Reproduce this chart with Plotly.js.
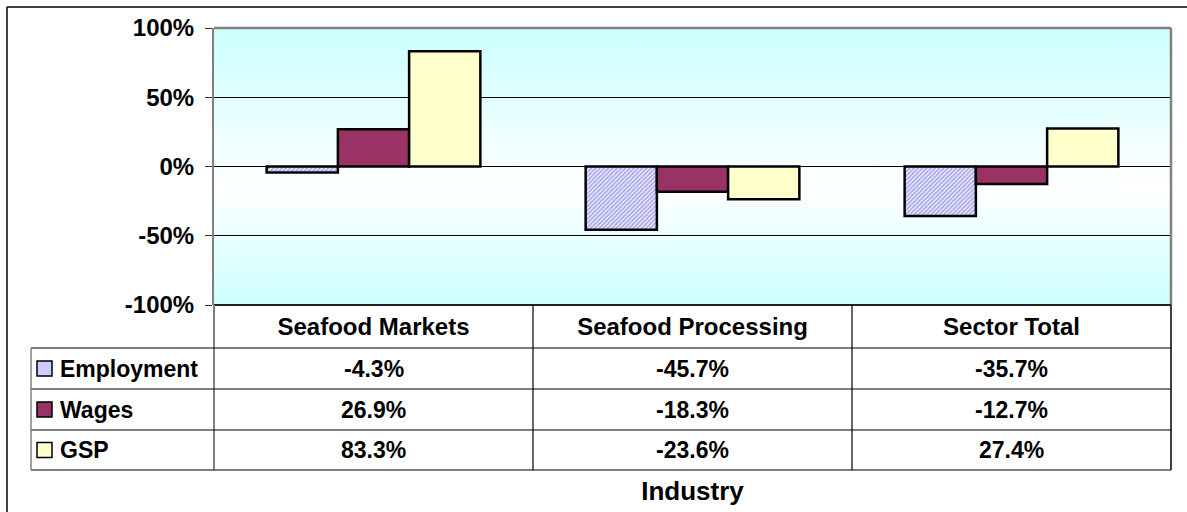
<!DOCTYPE html>
<html>
<head>
<meta charset="utf-8">
<script src="https://cdn.plot.ly/plotly-3.0.1.min.js"></script>
<style>
html,body{margin:0;padding:0;background:#fff;}
#chart{width:1187px;height:512px;}
</style>
</head>
<body>
<div id="chart"></div>
<script>
// ---- data ----
const categories = ['Seafood Markets', 'Seafood Processing', 'Sector Total'];
const seriesNames = ['Employment', 'Wages', 'GSP'];
const employment = [-4.3, -45.7, -35.7];
const wages = [26.9, -18.3, -12.7];
const gsp = [83.3, -23.6, 27.4];
const yTickVals = [-100, -50, 0, 50, 100];
const yTickText = ['-100%', '-50%', '0%', '50%', '100%'];
const xTitle = 'Industry';

// ---- geometry / style ----
const W = 1187, H = 512;
const PL = 214, PR = 1171, PT = 28, PB = 305;
const px = p => (p - PL) / (PR - PL);
const py = p => (PB - p) / (PB - PT);
const FONT = 'Arial, "Liberation Sans", sans-serif';
const colors = ['#CCCCFF', '#993366', '#FFFFCC'];
const rowTops = [348, 389, 430];
const rowBottom = 470;

// background gradient via canvas
const cv = document.createElement('canvas');
cv.width = 8; cv.height = 277;
const ctx = cv.getContext('2d');
const g = ctx.createLinearGradient(0, 0, 0, 277);
g.addColorStop(0, '#CCFFFF');
g.addColorStop(0.58, '#FFFFFF');
g.addColorStop(1, '#CCFFFF');
ctx.fillStyle = g;
ctx.fillRect(0, 0, 8, 277);
const bgURL = cv.toDataURL('image/png');

const seriesVals = [employment, wages, gsp];
const traces = seriesVals.map((vals, i) => {
  const m = {color: colors[i], line: {color: '#000', width: 2.5}};
  if (i === 0) {
    m.pattern = {shape: '/', fgcolor: '#8F8FE0', bgcolor: '#E6E6FF', size: 3, solidity: 0.35};
  }
  return {type: 'bar', name: seriesNames[i], x: categories, y: vals, marker: m, hoverinfo: 'skip'};
});

const shapes = [];
const line = (x0, y0, x1, y1, color, width) => shapes.push({
  type: 'line', xref: 'paper', yref: 'paper',
  x0: px(x0), y0: py(y0), x1: px(x1), y1: py(y1),
  line: {color: color, width: width}, layer: 'above'
});
// outer frame (left & top visible)
line(7, 7, 1200, 7, '#000', 1.5);
line(7, 7, 7, 520, '#000', 1.5);
// plot frame
line(PL, PT, PR, PT, '#808080', 2.5);
line(PR, PT, PR, PB, '#808080', 2.5);
line(PL, PB, PR, PB, '#222', 2);
// table
line(PL, PB, PL, rowBottom, '#808080', 2);
const colW = (PR - PL) / categories.length;
for (let j = 1; j < categories.length; j++) line(PL + j * colW, PB, PL + j * colW, rowBottom, '#000', 1.2);
line(PR, PB, PR, rowBottom, '#000', 1.5);
rowTops.concat([rowBottom]).forEach(y => line(31, y, PR, y, '#000', 1.2));
line(31, rowTops[0], 31, rowBottom, '#808080', 1.5);

const annotations = [];
seriesNames.forEach((nm, i) => {
  const cy = (rowTops[i] + (i < 2 ? rowTops[i + 1] : rowBottom)) / 2;
  // legend key
  shapes.push({type: 'rect', xref: 'paper', yref: 'paper',
    x0: px(37), x1: px(52), y0: py(cy - 7.5), y1: py(cy + 7.5),
    fillcolor: colors[i], line: {color: '#000', width: 1.5}, layer: 'above'});
  annotations.push({xref: 'paper', yref: 'paper', x: px(58), y: py(cy), xanchor: 'left', yanchor: 'middle',
    text: nm, showarrow: false, font: {family: FONT, size: 23, color: '#000', weight: 700}});
  seriesVals[i].forEach((v, j) => {
    annotations.push({xref: 'x', yref: 'paper', x: categories[j], y: py(cy), xanchor: 'center', yanchor: 'middle',
      text: v.toFixed(1) + '%', showarrow: false, font: {family: FONT, size: 23, color: '#000', weight: 700}});
  });
});

const layout = {
  width: W, height: H,
  margin: {l: PL, r: W - PR, t: PT, b: H - PB},
  paper_bgcolor: '#FFFFFF',
  plot_bgcolor: 'rgba(0,0,0,0)',
  showlegend: false,
  barmode: 'group',
  bargap: 0.33,
  bargroupgap: 0,
  font: {family: FONT, color: '#000'},
  xaxis: {
    automargin: false,
    showgrid: false, zeroline: false, showline: false,
    ticks: '', ticklabelstandoff: 5,
    tickfont: {family: FONT, size: 24, color: '#000', weight: 700},
    title: {text: xTitle, standoff: 142, font: {family: FONT, size: 26, color: '#000', weight: 700}}
  },
  yaxis: {
    automargin: false,
    range: [-100, 100],
    tickvals: yTickVals, ticktext: yTickText,
    ticks: 'outside', ticklen: 7, tickcolor: '#333', tickwidth: 1,
    ticklabelstandoff: 6,
    showgrid: true, gridcolor: '#000', gridwidth: 1,
    zeroline: true, zerolinecolor: '#000', zerolinewidth: 1,
    showline: true, linecolor: '#808080', linewidth: 2,
    tickfont: {family: FONT, size: 24, color: '#000', weight: 700}
  },
  images: [{source: bgURL, xref: 'paper', yref: 'paper', x: 0, y: 1, sizex: 1, sizey: 1,
    sizing: 'stretch', xanchor: 'left', yanchor: 'top', layer: 'below'}],
  shapes: shapes,
  annotations: annotations
};

Plotly.newPlot('chart', traces, layout, {displayModeBar: false, staticPlot: true});
</script>
</body>
</html>
